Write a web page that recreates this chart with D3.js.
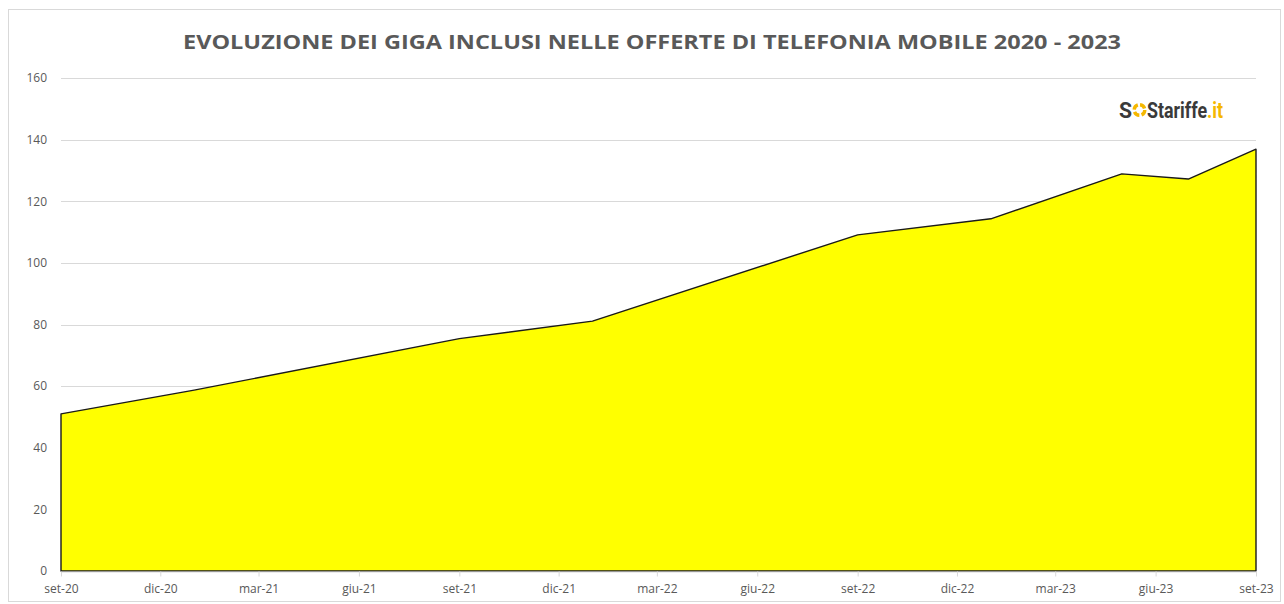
<!DOCTYPE html>
<html>
<head>
<meta charset="utf-8">
<script src="https://cdn.jsdelivr.net/npm/d3@7"></script>
<style>
  body { margin: 0; background: #fff; }
  svg { display: block; }
  .tick text { font-family: "Open Sans", "Noto Sans", sans-serif; font-size: 12px; fill: #595959; }
</style>
</head>
<body>
<svg id="chart"></svg>
<script>
// Dati (GB medi inclusi)
const dates = ["2020-09-01", "2021-01-01", "2021-09-01", "2022-01-01", "2022-09-01", "2023-01-01", "2023-05-01", "2023-07-01", "2023-09-01"];
const giga = [51, 58.7, 75.4, 81.1, 109.1, 114.3, 128.9, 127.2, 136.9];
const yTicks = [0, 20, 40, 60, 80, 100, 120, 140, 160];
const monthNames = ["gen", "feb", "mar", "apr", "mag", "giu", "lug", "ago", "set", "ott", "nov", "dic"];
const title = "EVOLUZIONE DEI GIGA INCLUSI NELLE OFFERTE DI TELEFONIA MOBILE 2020 - 2023";

const width = 1284;
const height = 604;
const margin = { top: 78, right: 28, bottom: 33, left: 61 };

const parse = d3.timeParse("%Y-%m-%d");
const data = dates.map((d, i) => ({ date: parse(d), value: giga[i] }));

const svg = d3.select("#chart")
  .attr("width", width)
  .attr("height", height);

// cornice del grafico
svg.append("rect")
  .attr("x", 8.5)
  .attr("y", 9.5)
  .attr("width", width - 12)
  .attr("height", height - 12)
  .attr("fill", "#fff")
  .attr("stroke", "#d9d9d9");

const x = d3.scaleTime()
  .domain(d3.extent(data, d => d.date))
  .range([margin.left, width - margin.right]);

const y = d3.scaleLinear()
  .domain([0, 160])
  .range([height - margin.bottom, margin.top]);

// griglia orizzontale
svg.append("g")
  .selectAll("line")
  .data(yTicks.slice(1))
  .enter()
  .append("line")
  .attr("x1", margin.left)
  .attr("x2", width - margin.right)
  .attr("y1", d => Math.round(y(d)) + 0.5)
  .attr("y2", d => Math.round(y(d)) + 0.5)
  .attr("stroke", "#d9d9d9");

// area
const area = d3.area()
  .x(d => x(d.date))
  .y0(y(0))
  .y1(d => y(d.value));

svg.append("path")
  .datum(data)
  .attr("d", area)
  .attr("fill", "#ffff00")
  .attr("stroke", "#1a1a1a")
  .attr("stroke-width", 1.4)
  .attr("stroke-linejoin", "round");

// asse x: un tick ogni 3 mesi a partire da set-20
const xAxis = d3.axisBottom(x)
  .tickValues(d3.timeMonth.range(x.domain()[0], d3.timeDay.offset(x.domain()[1], 1), 3))
  .tickFormat(d => monthNames[d.getMonth()] + "-" + d3.timeFormat("%y")(d))
  .tickSizeInner(5)
  .tickSizeOuter(0)
  .tickPadding(8);

const gx = svg.append("g")
  .attr("transform", `translate(0, ${Math.round(y(0)) + 0.5})`)
  .call(xAxis);
gx.select(".domain").attr("stroke", "#d9d9d9");
gx.selectAll(".tick line").attr("stroke", "#d9d9d9");

// asse y
const yAxis = d3.axisLeft(y)
  .tickValues(yTicks)
  .tickSize(0)
  .tickPadding(14);

const gy = svg.append("g")
  .attr("transform", `translate(${margin.left}, 0)`)
  .call(yAxis);
gy.select(".domain").remove();

// titolo
svg.append("text")
  .attr("x", 652)
  .attr("y", 49)
  .attr("text-anchor", "middle")
  .attr("font-family", "Open Sans, Noto Sans, sans-serif")
  .attr("font-weight", "bold")
  .attr("font-size", 20)
  .attr("fill", "#595959")
  .attr("textLength", 938)
  .attr("lengthAdjust", "spacingAndGlyphs")
  .text(title);

// logo SOStariffe.it
const logo = svg.append("g")
  .attr("transform", "translate(1119, 118)")
  .attr("font-family", "Roboto, Liberation Sans, sans-serif")
  .attr("font-weight", "bold")
  .attr("font-size", 22);
logo.append("text")
  .attr("x", 0)
  .attr("fill", "#3a3a3a")
  .attr("textLength", 13)
  .attr("lengthAdjust", "spacingAndGlyphs")
  .text("S");
logo.append("circle")
  .attr("cx", 20.5)
  .attr("cy", -8)
  .attr("r", 5.3)
  .attr("fill", "none")
  .attr("stroke", "#f5b800")
  .attr("stroke-width", 3.4)
  .attr("stroke-dasharray", "6 2.3");
logo.append("text")
  .attr("x", 28)
  .attr("fill", "#3a3a3a")
  .attr("textLength", 76)
  .attr("lengthAdjust", "spacingAndGlyphs")
  .html('Stariffe<tspan fill="#f5b800">.it</tspan>');
</script>
</body>
</html>
